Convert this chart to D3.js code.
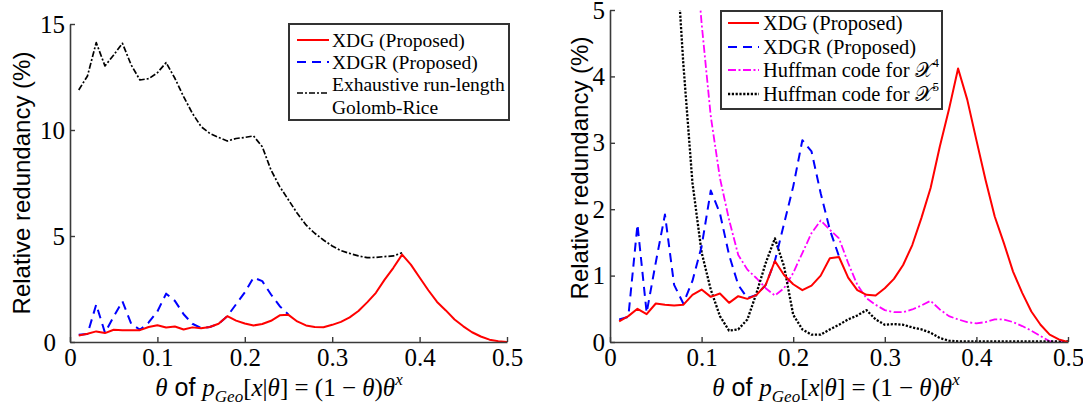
<!DOCTYPE html>
<html>
<head>
<meta charset="utf-8">
<script src="https://cdn.jsdelivr.net/npm/d3@7"></script>
<style>
  body { margin: 0; background: #fff; }
  svg { display: block; }
  .legend text { font-family: "Liberation Serif", "Times New Roman", serif; font-size: 19.5px; fill: #000; }
</style>
</head>
<body>
<svg id="chart" width="1083" height="413"></svg>
<script>
// theta grid shared by all curves
const thetaGrid = [0.01,0.02,0.03,0.04,0.05,0.06,0.07,0.08,0.09,0.10,
                   0.11,0.12,0.13,0.14,0.15,0.16,0.17,0.18,0.19,0.20,
                   0.21,0.22,0.23,0.24,0.25,0.26,0.27,0.28,0.29,0.30,
                   0.31,0.32,0.33,0.34,0.35,0.36,0.37,0.38,0.39,0.40,
                   0.41,0.42,0.43,0.44,0.45,0.46,0.47,0.48,0.49,0.50];

// XDG (Proposed), 0.01 .. 0.50
const xdgValues = [0.31,0.39,0.50,0.42,0.58,0.56,0.55,0.56,0.71,0.79,
                   0.68,0.73,0.59,0.69,0.65,0.71,0.86,1.22,1.01,0.87,
                   0.78,0.85,1.00,1.26,1.28,0.97,0.78,0.71,0.70,0.81,
                   0.95,1.16,1.46,1.87,2.32,2.94,3.50,4.12,3.65,3.04,
                   2.44,1.89,1.49,1.06,0.74,0.46,0.26,0.11,0.04,0.00];

// XDGR (Proposed), 0.01 .. 0.25 (identical to XDG beyond)
const xdgrValues = [0.34,0.38,1.77,0.44,1.20,1.92,0.86,0.58,0.92,1.44,
                    2.28,1.94,1.31,0.86,0.66,0.71,0.86,1.22,1.78,2.34,
                    3.04,2.87,2.24,1.69,1.29];

// Exhaustive run-length Golomb-Rice, 0.01 .. 0.38
const golombValues = [11.89,12.55,14.12,13.02,13.54,14.09,13.07,12.36,12.42,12.70,
                      13.18,12.44,11.57,10.79,10.16,9.84,9.65,9.48,9.60,9.65,
                      9.72,9.21,8.11,7.33,6.70,6.07,5.52,5.13,4.81,4.53,
                      4.31,4.18,4.06,3.98,3.99,4.03,4.06,4.21];

// Huffman code for X^4, 0.09 .. 0.50
const huff4Values = [6.50,4.80,3.40,2.47,1.84,1.31,1.09,0.96,0.81,0.70,
                     0.81,1.04,1.34,1.64,1.83,1.69,1.56,1.19,0.86,0.66,
                     0.56,0.48,0.45,0.45,0.49,0.55,0.62,0.49,0.39,0.34,
                     0.30,0.28,0.30,0.34,0.34,0.30,0.24,0.17,0.09,0.01,
                     0.00,0.00];

// Huffman code for X^5, 0.07 .. 0.50
const huff5Values = [6.40,4.20,2.40,1.35,0.79,0.39,0.17,0.19,0.34,0.74,
                     1.19,1.56,1.14,0.41,0.19,0.11,0.11,0.19,0.26,0.34,
                     0.40,0.48,0.34,0.26,0.27,0.26,0.22,0.19,0.14,0.06,
                     0.02,0.01,0.01,0.01,0.01,0.01,0.01,0.01,0.01,0.01,
                     0.01,0.01,0.01,0.01];

const xTicks = [0, 0.1, 0.2, 0.3, 0.4, 0.5];
const xTickLabels = ["0", "0.1", "0.2", "0.3", "0.4", "0.5"];
const leftYTicks = [0, 5, 10, 15];
const rightYTicks = [0, 1, 2, 3, 4, 5];

const toPoints = (start, values) => values.map((v, i) => [thetaGrid[start + i], v]);

const styles = {
  xdg:    {label: "XDG (Proposed)",  color: "#ff0000", width: 2,   dash: null},
  xdgr:   {label: "XDGR (Proposed)", color: "#0000ff", width: 2,   dash: "9,6"},
  golomb: {label: "Exhaustive run-length", label2: "Golomb-Rice", color: "#000", width: 1.7, dash: "6,2,2,2"},
  huff4:  {label: "Huffman code for ", sup: "4", color: "#ff00ff", width: 1.8, dash: "8,2.5,2,2.5"},
  huff5:  {label: "Huffman code for ", sup: "5", color: "#000", width: 2.3, dash: "2.2,1.6"}
};

const svg = d3.select("#chart");

const drawPanel = (cfg) => {
  const x = d3.scaleLinear().domain([0, 0.5]).range([cfg.left, cfg.right]);
  const y = d3.scaleLinear().domain([0, cfg.yMax]).range([cfg.bottom, cfg.top]);
  const g = svg.append("g");

  const clipId = "clip" + cfg.id;
  svg.append("clipPath").attr("id", clipId)
    .append("rect")
      .attr("x", cfg.left).attr("y", cfg.top)
      .attr("width", cfg.right - cfg.left).attr("height", cfg.bottom - cfg.top);

  const line = d3.line().x(d => x(d[0])).y(d => y(d[1]));

  g.append("g").attr("clip-path", "url(#" + clipId + ")")
    .selectAll("path")
    .data(cfg.series)
    .enter().append("path")
      .attr("d", s => line(s.points))
      .attr("fill", "none")
      .attr("stroke", s => styles[s.key].color)
      .attr("stroke-width", s => styles[s.key].width)
      .attr("stroke-dasharray", s => styles[s.key].dash)
      .attr("stroke-linejoin", "round");

  const xAxis = d3.axisBottom(x)
    .tickValues(xTicks)
    .tickFormat((d, i) => xTickLabels[i])
    .tickSizeInner(-5).tickSizeOuter(0).tickPadding(6);
  const yAxis = d3.axisLeft(y)
    .tickValues(cfg.yTicks)
    .tickFormat(d3.format("d"))
    .tickSizeInner(-5).tickSizeOuter(0).tickPadding(5);

  const gx = g.append("g").attr("transform", "translate(0," + cfg.bottom + ")").call(xAxis);
  const gy = g.append("g").attr("transform", "translate(" + cfg.left + ",0)").call(yAxis);
  [gx, gy].forEach(a => {
    a.select(".domain").attr("stroke", "#3a3a3a").attr("stroke-width", 1.6);
    a.selectAll(".tick line").attr("stroke", "#3a3a3a").attr("stroke-width", 1.4);
    a.selectAll(".tick text")
      .style("font-family", "'Liberation Serif', 'Times New Roman', serif")
      .style("font-size", "25px")
      .style("fill", "#000");
  });
  if (cfg.zeroShift) gy.selectAll(".tick text").filter(d => d === 0).attr("x", -14);

  // y label
  svg.append("text")
    .attr("transform", "translate(" + cfg.yLabelX + "," + cfg.yLabelY + ") rotate(-90)")
    .attr("text-anchor", "middle")
    .attr("dominant-baseline", "central")
    .style("font-family", "'Liberation Sans', Arial, sans-serif")
    .style("font-size", "24px")
    .text("Relative redundancy (%)");

  // x label
  const xl = svg.append("text")
    .attr("x", cfg.xLabelX).attr("y", cfg.xLabelY)
    .attr("text-anchor", "middle")
    .style("font-family", "'Liberation Serif', serif")
    .style("font-size", "25px");
  const ital = (t) => xl.append("tspan").style("font-style", "italic").text(t);
  ital("θ");
  xl.append("tspan").style("font-family", "'Liberation Sans', sans-serif").text(" of ");
  ital("p");
  xl.append("tspan").style("font-style", "italic").style("font-size", "17px").attr("dy", 6).text("Geo");
  xl.append("tspan").attr("dy", -6).text("[");
  ital("x");
  xl.append("tspan").text("|");
  ital("θ");
  xl.append("tspan").text("] = (1 − ");
  ital("θ");
  xl.append("tspan").text(")");
  ital("θ");
  xl.append("tspan").style("font-style", "italic").style("font-size", "17px").attr("dy", -11).text("x");

  // legend
  const lg = svg.append("g").attr("class", "legend");
  const L = cfg.legend;
  lg.append("rect")
    .attr("x", L.x).attr("y", L.y).attr("width", L.w).attr("height", L.h)
    .attr("fill", "#fff").attr("stroke", "#333").attr("stroke-width", 2);
  L.rows.forEach(r => {
    const st = styles[r.key];
    lg.append("line")
      .attr("x1", L.x + L.lineX0).attr("x2", L.x + L.lineX1)
      .attr("y1", r.lineY).attr("y2", r.lineY)
      .attr("stroke", st.color).attr("stroke-width", st.width)
      .attr("stroke-dasharray", st.dash);
    const t = lg.append("text")
      .attr("x", L.x + L.textX).attr("y", r.textY)
      .attr("dominant-baseline", "central")
      .style("font-size", L.fontSize + "px")
      .text(st.label);
    if (st.sup) {
      t.append("tspan").text("𝒳");
      t.append("tspan").attr("dy", -8).style("font-size", "13px").text(st.sup);
    }
    if (st.label2) {
      lg.append("text")
        .attr("x", L.x + L.textX).attr("y", r.textY2)
        .attr("dominant-baseline", "central")
        .style("font-size", L.fontSize + "px")
        .text(st.label2);
    }
  });
};

drawPanel({
  id: "L", left: 70, right: 507, top: 24, bottom: 342, yMax: 15, yTicks: leftYTicks,
  zeroShift: true,
  series: [
    {key: "golomb", points: toPoints(0, golombValues)},
    {key: "xdgr", points: toPoints(0, xdgrValues)},
    {key: "xdg", points: toPoints(0, xdgValues)}
  ],
  yLabelX: 21, yLabelY: 183, xLabelX: 279, xLabelY: 396,
  legend: {
    x: 289, y: 24, w: 220, h: 96, lineX0: 8, lineX1: 40, textX: 43, fontSize: 19.5,
    rows: [
      {key: "xdg", lineY: 40, textY: 40},
      {key: "xdgr", lineY: 62, textY: 62},
      {key: "golomb", lineY: 93, textY: 84, textY2: 107}
    ]
  }
});

drawPanel({
  id: "R", left: 610, right: 1068, top: 10, bottom: 342, yMax: 5, yTicks: rightYTicks,
  zeroShift: false,
  series: [
    {key: "huff4", points: toPoints(8, huff4Values)},
    {key: "huff5", points: toPoints(6, huff5Values)},
    {key: "xdgr", points: toPoints(0, xdgrValues)},
    {key: "xdg", points: toPoints(0, xdgValues)}
  ],
  yLabelX: 579, yLabelY: 168, xLabelX: 836, xLabelY: 396,
  legend: {
    x: 721, y: 11, w: 221, h: 98, lineX0: 7, lineX1: 38, textX: 42, fontSize: 20.5,
    rows: [
      {key: "xdg", lineY: 23, textY: 23},
      {key: "xdgr", lineY: 47, textY: 47},
      {key: "huff4", lineY: 70, textY: 70},
      {key: "huff5", lineY: 94, textY: 94}
    ]
  }
});
</script>
</body>
</html>
